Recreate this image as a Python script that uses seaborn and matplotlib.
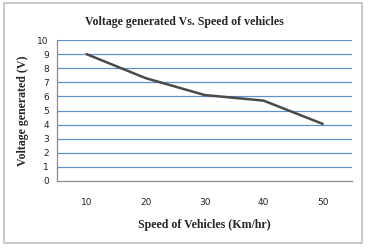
import matplotlib
matplotlib.use("Agg")
import matplotlib.pyplot as plt
import seaborn as sns
import pandas as pd
from matplotlib.patches import Rectangle

speeds = ["10", "20", "30", "40", "50"]
voltage = [9.0, 7.3, 6.1, 5.7, 4.05]
yticks = list(range(0, 11))

sns.set_theme(style="white")
plt.rcParams['font.family'] = ['DejaVu Sans']

df = pd.DataFrame({"speed": speeds, "voltage": voltage})

fig = plt.figure(figsize=(3.68, 2.52), dpi=100)
ax = fig.add_axes([0.155, 0.282, 0.802, 0.559])

sns.lineplot(data=df, x="speed", y="voltage", ax=ax, color="#4a4a4a",
             linewidth=1.8, sort=False)

ax.set_xlim(-0.5, len(speeds) - 0.5)
ax.set_ylim(0, 10)
ax.set_yticks(yticks)
ax.set_yticklabels([str(t) for t in yticks])
for t in yticks[1:]:
    ax.axhline(t, color="#5f92c8", linewidth=0.9, zorder=0)

for s in ["top", "right"]:
    ax.spines[s].set_visible(False)
for s in ["left", "bottom"]:
    ax.spines[s].set_color("#8c8c8c")
    ax.spines[s].set_linewidth(0.9)

ax.tick_params(axis="both", labelsize=6.5, colors="#8c8c8c", labelcolor="#222222", length=0)
ax.tick_params(axis="x", pad=12)
ax.tick_params(axis="y", pad=6)

serif = ["Liberation Serif", "DejaVu Serif"]
ax.set_xlabel("Speed of Vehicles (Km/hr)", family=serif, fontsize=8.6, fontweight="bold", labelpad=9)
ax.set_ylabel("Voltage generated (V)", family=serif, fontsize=8.6, fontweight="bold", labelpad=6)
fig.text(0.5, 0.912, "Voltage generated Vs. Speed of vehicles", family=serif,
         fontsize=8.6, fontweight="bold", ha="center", va="center")

fig.patches.append(Rectangle((0.01, 0.035), 0.975, 0.955, transform=fig.transFigure,
                             fill=False, edgecolor="#bfbfbf", linewidth=1.2))

fig.savefig("out.png", dpi=100)
